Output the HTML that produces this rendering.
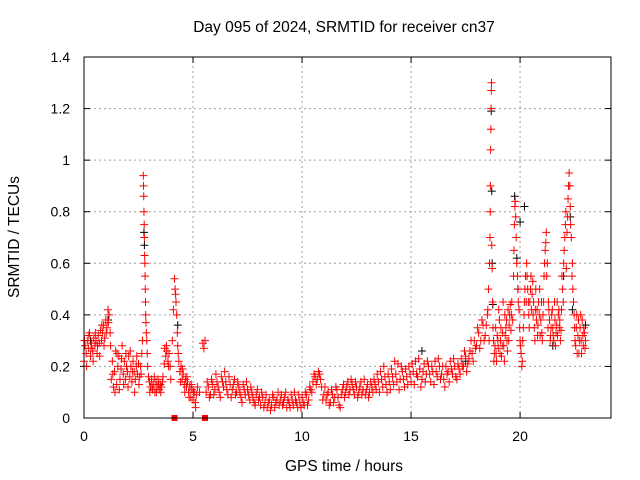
<!DOCTYPE html>
<html><head><meta charset="utf-8"><style>
html,body{margin:0;padding:0;background:#fff;}
svg{display:block;font-family:"Liberation Sans",sans-serif;}
</style></head><body>
<svg id="chart" width="640" height="480" viewBox="0 0 640 480" xmlns="http://www.w3.org/2000/svg">
<text x="344" y="32" font-size="15.5" text-anchor="middle">Day 095 of 2024, SRMTID for receiver cn37</text>
<text transform="translate(19,237) rotate(-90)" font-size="15.5" text-anchor="middle">SRMTID / TECUs</text>
<text x="344" y="471" font-size="15.5" text-anchor="middle">GPS time / hours</text>
<g id="grid"></g>
<g id="ticks"></g>
<g id="marks"></g>
<rect x="84" y="57" width="527" height="361" fill="none" stroke="#000" stroke-width="1"/>
</svg>
<script>
const xTicks=[0,5,10,15,20];
const yTicks=[0,0.2,0.4,0.6,0.8,1,1.2,1.4];
const yTickLabels=["0","0.2","0.4","0.6","0.8","1","1.2","1.4"];
const blackSeries=[[0.0,.2],[0.3,.3],[1.1,.38],[2.75,.72],[2.77,.67],[4.3,.36],[15.5,.26],[17.5,.22],[18.68,1.19],[18.7,.88],[18.72,.6],[18.75,.44],[19.75,.86],[19.85,.62],[19.9,.5],[20.0,.76],[20.2,.82],[21.5,.28],[22.0,.55],[22.3,.78],[22.4,.42],[23.0,.36]];
const redSeries=[[0,.22],[.05,.28],[.1,.25],[.15,.3],[.2,.27],[.25,.33],[.3,.24],[.35,.29],[.4,.26],[.45,.31],[.5,.28],[.55,.3],[.6,.25],[.65,.32],[.7,.29],[.75,.34],[.8,.3],[.85,.33],[.9,.36],[.95,.31],[1.0,.38],[1.05,.35],[1.1,.42],[1.15,.4],[1.2,.33],
[1.25,.15],[1.3,.22],[1.35,.12],[1.4,.18],[1.45,.26],[1.5,.13],[1.55,.2],[1.6,.24],[1.65,.15],[1.7,.19],[1.75,.28],[1.8,.17],[1.85,.22],[1.9,.15],[1.95,.2],[2.0,.18],[2.05,.24],[2.1,.16],[2.15,.2],[2.2,.14],[2.25,.22],[2.3,.18],[2.35,.15],[2.4,.2],[2.45,.17],[2.5,.21],[2.55,.16],[2.6,.2],[2.65,.25],
[2.72,.94],[2.73,.9],[2.74,.86],[2.75,.8],[2.76,.75],[2.77,.7],[2.78,.63],[2.79,.6],[2.8,.55],[2.81,.5],[2.82,.45],[2.83,.4],[2.84,.37],[2.86,.33],[2.88,.3],[2.9,.25],[2.92,.2],
[3.0,.14],[3.05,.12],[3.1,.15],[3.15,.11],[3.2,.13],[3.25,.1],[3.3,.14],[3.35,.12],[3.4,.15],[3.45,.11],[3.5,.13],[3.55,.12],[3.6,.14],
[3.7,.27],[3.75,.24],[3.8,.26],[3.85,.22],[3.9,.25],[3.95,.2],
[4.1,.42],[4.15,.54],[4.18,.5],[4.2,.48],[4.22,.45],[4.25,.4],[4.28,.33],[4.3,.28],[4.35,.22],[4.4,.18],[4.45,.2],[4.5,.15],[4.55,.17],[4.6,.13],[4.65,.15],[4.7,.12],[4.75,.14],[4.8,.1],[4.85,.12],[4.9,.08],[4.95,.11],[5.0,.07],[5.05,.1],[5.1,.06],[5.15,.09],
[5.45,.29],[5.5,.27],[5.55,.3],[5.6,.1],
[5.7,.12],[5.8,.09],[5.9,.13],[6.0,.11],[6.1,.14],[6.2,.1],[6.3,.16],[6.4,.12],[6.5,.14],[6.6,.09],[6.7,.13],[6.8,.11],[6.9,.15],[7.0,.1],[7.1,.12],[7.2,.08],[7.3,.13],[7.4,.09],[7.5,.11],[7.6,.07],[7.7,.1],[7.8,.06],[7.9,.09],[8.0,.07],[8.1,.05],[8.2,.08],[8.3,.06],[8.4,.04],[8.5,.07],[8.6,.05],[8.7,.08],[8.8,.06],[8.9,.1],[9.0,.07],[9.1,.05],[9.2,.08],[9.3,.04],[9.4,.06],[9.5,.09],[9.6,.05],[9.7,.07],[9.8,.04],[9.9,.06],[10.0,.08],[10.1,.05],[10.2,.09],[10.3,.07],[10.4,.11],[10.5,.14],[10.6,.16],[10.7,.15],[10.8,.17],[10.9,.12],[11.0,.09],[11.1,.07],[11.2,.1],[11.3,.06],[11.4,.09],[11.5,.08],[11.6,.11],[11.7,.05],[11.8,.09],[11.9,.13],[12.0,.1],[12.1,.14],[12.2,.11],[12.3,.13],[12.4,.09],[12.5,.12],[12.6,.1],[12.7,.14],[12.8,.11],[12.9,.09],[13.0,.13],[13.1,.1],[13.2,.12],[13.3,.15],[13.4,.11],[13.5,.14],[13.6,.18],[13.7,.12],[13.8,.16],[13.9,.1],[14.0,.14],[14.1,.19],[14.2,.13],[14.3,.17],[14.4,.21],[14.5,.15],[14.6,.18],[14.7,.12],[14.8,.16],[14.9,.2],[15.0,.14],[15.1,.18],[15.2,.22],[15.3,.16],[15.4,.19],[15.5,.15],[15.6,.21],[15.7,.17],[15.8,.2],[15.9,.14],[16.0,.18],[16.1,.22],[16.2,.16],[16.3,.2],[16.4,.17],[16.5,.15],[16.6,.2],[16.7,.18],[16.8,.22],[16.9,.17],[17.0,.2],[17.1,.15],[17.2,.19],[17.3,.23],[17.4,.2],[17.5,.24],[17.6,.21],[17.7,.26],[17.8,.25],[17.9,.3],[18.0,.28],[18.1,.33],[18.2,.3],[18.3,.36],[18.4,.32],[18.5,.4],[18.55,.5],
[18.6,.6],[18.62,.7],[18.63,.8],[18.64,.9],[18.65,1.04],[18.66,1.12],[18.67,1.2],[18.68,1.27],[18.69,1.3],[18.7,.67],[18.72,.58],[18.74,.45],[18.76,.35],[18.8,.22],[18.85,.28],[18.9,.25],[18.95,.32],[19.0,.27],[19.05,.38],[19.1,.3],[19.15,.24],[19.2,.33],[19.25,.28],[19.3,.4],[19.35,.35],[19.4,.3],[19.45,.42],[19.5,.36],[19.55,.44],[19.6,.4],
[19.7,.55],[19.72,.65],[19.74,.75],[19.76,.82],[19.78,.84],[19.8,.78],[19.82,.7],[19.85,.6],[19.9,.5],[19.95,.42],[20.0,.3],[20.05,.25],[20.1,.22],[20.15,.35],[20.2,.45],[20.25,.55],[20.3,.6],[20.35,.5],[20.4,.4],[20.45,.45],[20.5,.55],[20.55,.48],[20.6,.4],[20.65,.35],[20.7,.42],[20.75,.38],[20.8,.32],[20.85,.45],[20.9,.5],[20.95,.38],[21.0,.33],[21.05,.4],[21.1,.55],[21.15,.65],[21.2,.72],[21.25,.6],[21.3,.45],[21.35,.38],[21.4,.32],[21.45,.4],[21.5,.35],[21.55,.3],[21.6,.38],[21.65,.33],[21.7,.45],[21.75,.4],[21.8,.35],[21.85,.3],[21.9,.42],[21.95,.5],[22.0,.6],[22.05,.7],[22.1,.8],[22.15,.72],[22.2,.85],[22.25,.95],[22.28,.9],[22.3,.82],[22.35,.7],[22.4,.6],[22.45,.45],[22.5,.35],[22.55,.28],[22.6,.4],[22.65,.32],[22.7,.25],[22.75,.35],[22.8,.3],[22.85,.38],[22.9,.28],[22.95,.33],[23.0,.3]];
const redSeries2=[[.02,.3],[.12,.2],[.22,.32],[.32,.27],[.42,.22],[.52,.33],[.62,.28],[.72,.24],[.82,.36],[.92,.28],[1.02,.33],[1.12,.37],[1.22,.28],[1.32,.17],[1.42,.1],[1.52,.25],[1.62,.11],[1.72,.23],[1.82,.13],[1.92,.25],[2.02,.12],[2.12,.26],[2.22,.18],[2.32,.1],[2.42,.24],[2.52,.13],[2.62,.17],[2.68,.3],
[2.96,.16],[3.02,.1],[3.12,.12],[3.22,.16],[3.32,.1],[3.42,.13],[3.52,.1],[3.62,.16],[3.68,.21],[3.78,.28],[3.88,.2],[3.98,.15],[4.05,.3],
[4.32,.25],[4.42,.14],[4.52,.19],[4.62,.1],[4.72,.16],[4.82,.08],[4.92,.13],[5.02,.1],[5.12,.04],[5.2,.12],[5.3,.1],
[5.65,.14],[5.75,.08],[5.85,.15],[5.95,.09],[6.05,.17],[6.15,.12],[6.25,.08],[6.35,.14],[6.45,.18],[6.55,.11],[6.65,.16],[6.75,.08],[6.85,.13],[6.95,.09],[7.05,.14],[7.15,.1],[7.25,.06],[7.35,.11],[7.45,.14],[7.55,.09],[7.65,.12],[7.75,.08],[7.85,.05],[7.95,.11],[8.05,.08],[8.15,.1],[8.25,.04],[8.35,.09],[8.45,.06],[8.55,.03],[8.65,.09],[8.75,.04],[8.85,.07],[8.95,.05],[9.05,.09],[9.15,.06],[9.25,.1],[9.35,.07],[9.45,.04],[9.55,.07],[9.65,.1],[9.75,.06],[9.85,.09],[9.95,.04],[10.05,.06],[10.15,.1],[10.25,.05],[10.35,.12],[10.45,.1],[10.55,.17],[10.65,.13],[10.75,.18],[10.85,.15],[10.95,.07],[11.05,.12],[11.15,.09],[11.25,.05],[11.35,.11],[11.45,.06],[11.55,.12],[11.65,.08],[11.75,.04],[11.85,.11],[11.95,.08],[12.05,.12],[12.15,.09],[12.25,.15],[12.35,.11],[12.45,.14],[12.55,.08],[12.65,.12],[12.75,.09],[12.85,.15],[12.95,.11],[13.05,.08],[13.15,.14],[13.25,.1],[13.35,.13],[13.45,.17],[13.55,.1],[13.65,.15],[13.75,.2],[13.85,.13],[13.95,.17],[14.05,.11],[14.15,.16],[14.25,.22],[14.35,.14],[14.45,.11],[14.55,.2],[14.65,.15],[14.75,.19],[14.85,.13],[14.95,.17],[15.05,.21],[15.15,.13],[15.25,.17],[15.35,.23],[15.45,.12],[15.55,.18],[15.65,.14],[15.75,.22],[15.85,.17],[15.95,.2],[16.05,.13],[16.15,.18],[16.25,.23],[16.35,.15],[16.45,.2],[16.55,.12],[16.65,.17],[16.75,.14],[16.85,.19],[16.95,.23],[17.05,.16],[17.15,.21],[17.25,.17],[17.35,.2],[17.45,.26],[17.55,.18],[17.65,.23],[17.75,.3],[17.85,.22],[17.95,.27],[18.05,.35],[18.15,.27],[18.25,.38],[18.35,.3],[18.45,.36],[18.52,.42],[18.58,.3],
[18.78,.3],[18.82,.25],[18.88,.35],[18.92,.22],[18.98,.3],[19.02,.42],[19.08,.25],[19.12,.35],[19.18,.28],[19.22,.45],[19.28,.22],[19.32,.32],[19.38,.38],[19.42,.26],[19.48,.3],[19.52,.4],[19.58,.34],[19.62,.45],[19.66,.38],
[19.88,.55],[19.92,.45],[19.98,.35],[20.02,.28],[20.08,.2],[20.12,.3],[20.18,.4],[20.22,.5],[20.28,.45],[20.32,.55],[20.38,.45],[20.42,.35],[20.48,.5],[20.52,.42],[20.58,.53],[20.62,.45],[20.68,.3],[20.72,.5],[20.78,.42],[20.82,.36],[20.88,.4],[20.92,.32],[20.98,.45],[21.02,.3],[21.08,.45],[21.12,.6],[21.18,.68],[21.22,.55],[21.28,.35],[21.32,.42],[21.38,.3],[21.42,.35],[21.48,.42],[21.52,.32],[21.58,.45],[21.62,.28],[21.68,.36],[21.72,.32],[21.78,.42],[21.82,.38],[21.88,.34],[21.92,.55],[21.98,.45],[22.02,.65],[22.08,.75],[22.12,.58],[22.18,.78],[22.22,.9],[22.32,.75],[22.38,.55],[22.42,.5],[22.48,.4],[22.52,.3],[22.58,.35],[22.62,.25],[22.68,.38],[22.72,.3],[22.78,.4],[22.82,.25],[22.88,.32],[22.92,.35],[22.98,.27]];
const redZeroSquares=[4.15,5.55];

const NS="http://www.w3.org/2000/svg";
const X0=84,X1=611,Y0=418,Y1=57,XMAX=24.17,YMAX=1.4;
function xs(v){return X0+(X1-X0)*v/XMAX;}
function ys(v){return Y0-(Y0-Y1)*v/YMAX;}
function mk(tag,attrs,parent){const e=document.createElementNS(NS,tag);for(const k in attrs)e.setAttribute(k,attrs[k]);parent.appendChild(e);return e;}
const grid=document.getElementById('grid'),ticks=document.getElementById('ticks'),marks=document.getElementById('marks');
xTicks.forEach(t=>{const x=xs(t);
 if(t>0){const g=mk('line',{x1:x,y1:Y0,x2:x,y2:Y1,stroke:'#a0a0a0','stroke-dasharray':'2,3'},grid);
 
 }
 mk('line',{x1:x,y1:Y0,x2:x,y2:Y0-6,stroke:'#000'},ticks);
 mk('line',{x1:x,y1:Y1,x2:x,y2:Y1+6,stroke:'#000'},ticks);
 const l=mk('text',{x:x,y:Y0+23,'font-size':14,'text-anchor':'middle'},ticks);l.textContent=t;
 
 
});
yTicks.forEach((t,i)=>{const y=ys(t);
 if(t>0&&t<YMAX){const g=mk('line',{x1:X0,y1:y,x2:X1,y2:y,stroke:'#a0a0a0','stroke-dasharray':'2,3'},grid);
 
 }
 mk('line',{x1:X0,y1:y,x2:X0+6,y2:y,stroke:'#000'},ticks);
 mk('line',{x1:X1,y1:y,x2:X1-6,y2:y,stroke:'#000'},ticks);
 const l=mk('text',{x:X0-14,y:y+5,'font-size':14,'text-anchor':'end'},ticks);l.textContent=yTickLabels[i];
 
 
});
function plus(h,v,color){const x=xs(h),y=ys(v);
 const p=mk('path',{d:`M${x-4},${y}H${x+4}M${x},${y-4}V${y+4}`,stroke:color,'stroke-width':1,fill:'none'},marks);
 return p;}
blackSeries.forEach(d=>{const p=plus(d[0],d[1],'#000');
 
 });
redSeries.forEach(d=>{const p=plus(d[0],d[1],'#ff0000');
 
 });
redSeries2.forEach(d=>{const p=plus(d[0],d[1],'#ff0000');
 
 });
redZeroSquares.forEach(h=>{const r=mk('rect',{x:xs(h)-3,y:Y0-3,width:6,height:6,fill:'#ff0000'},marks);
 
 });
</script>
</body></html>
